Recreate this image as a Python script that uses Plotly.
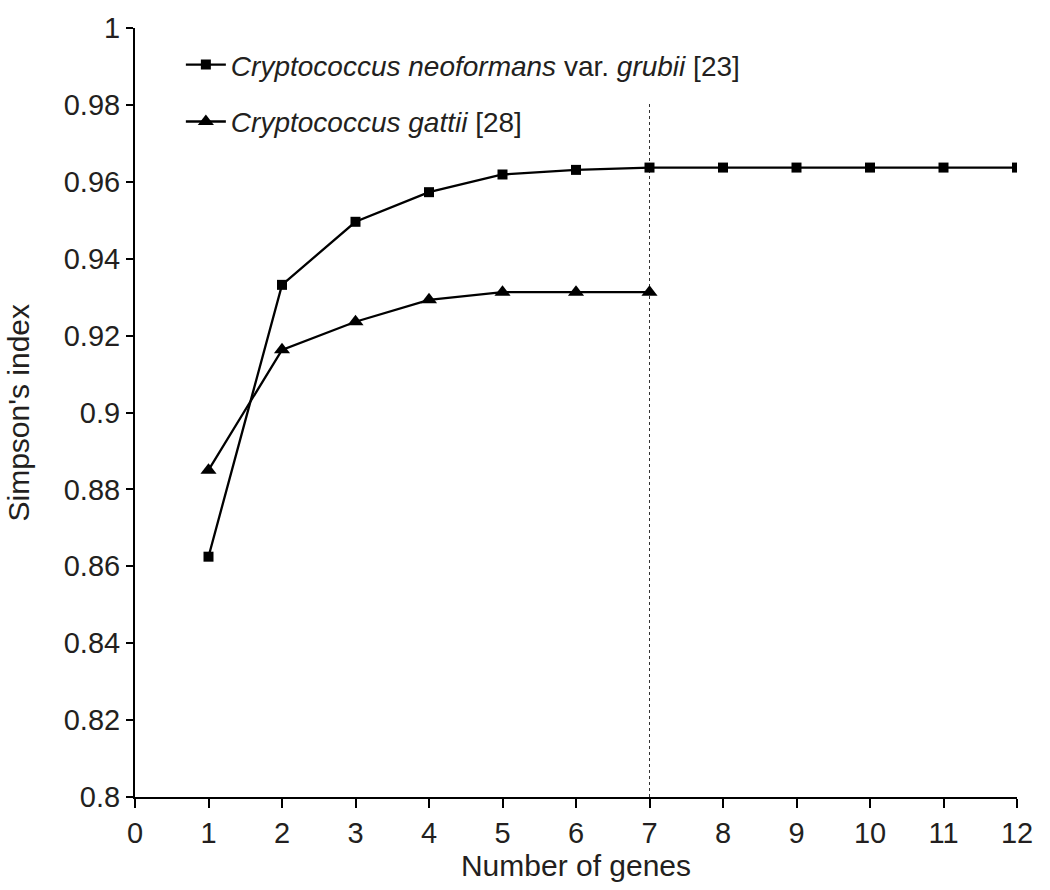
import plotly.graph_objects as go

genes_neo = [1, 2, 3, 4, 5, 6, 7, 8, 9, 10, 11, 12]
simpson_neo = [0.8625, 0.9332, 0.9496, 0.9573, 0.9619, 0.9631, 0.9637, 0.9637, 0.9637, 0.9637, 0.9637, 0.9637]
genes_gattii = [1, 2, 3, 4, 5, 6, 7]
simpson_gattii = [0.885, 0.9163, 0.9236, 0.9293, 0.9313, 0.9313, 0.9313]
x_ticks = list(range(0, 13))
y_ticks = [0.8, 0.82, 0.84, 0.86, 0.88, 0.9, 0.92, 0.94, 0.96, 0.98, 1.0]
y_tick_text = ["0.8", "0.82", "0.84", "0.86", "0.88", "0.9", "0.92", "0.94", "0.96", "0.98", "1"]
cutoff_x = 7
cutoff_top = 0.9808

FONT = "Liberation Sans, Arial, sans-serif"
TXT = "#231f20"

fig = go.Figure()
fig.add_trace(go.Scatter(
    x=genes_neo, y=simpson_neo, mode="lines+markers",
    name="<i>Cryptococcus neoformans</i> var. <i>grubii</i> [23]",
    line=dict(color="black", width=2.3),
    marker=dict(symbol="square", size=10, color="black"),
    legend="legend",
))
fig.add_trace(go.Scatter(
    x=genes_gattii, y=simpson_gattii, mode="lines+markers",
    name="<i>Cryptococcus gattii</i> [28]",
    line=dict(color="black", width=2.3),
    marker=dict(symbol="triangle-up", size=14, color="black"),
    legend="legend2",
))

fig.add_shape(type="line", xref="x", yref="y",
              x0=cutoff_x, x1=cutoff_x, y0=0.8, y1=cutoff_top,
              line=dict(color="#333333", width=1, dash="dot"), layer="below")

# y-axis title as annotation (page x center ~18px)
fig.add_annotation(text="Simpson's index", xref="paper", yref="paper",
                   x=(18 - 135) / 882, y=0.5, xanchor="center", yanchor="middle",
                   textangle=-90, showarrow=False,
                   font=dict(size=30, family=FONT, color=TXT))

leg_common = dict(xanchor="left", yanchor="middle", bgcolor="rgba(0,0,0,0)",
                  font=dict(size=28, family=FONT, color=TXT), itemwidth=40)

fig.update_layout(
    width=1050, height=890,
    margin=dict(l=135, r=33, t=28, b=93),
    paper_bgcolor="white", plot_bgcolor="white",
    font=dict(family=FONT, size=29, color=TXT),
    showlegend=True,
    legend=dict(x=0.052, y=0.952, **leg_common),
    legend2=dict(x=0.052, y=0.878, **leg_common),
    xaxis=dict(range=[0, 12], tickmode="array", tickvals=x_ticks,
               showline=True, linecolor="black", linewidth=2,
               ticks="outside", ticklen=9, tickwidth=1.5, tickcolor="black",
               showgrid=False, zeroline=False, automargin=False,
               tickfont=dict(size=29),
               title=dict(text="Number of genes", font=dict(size=30), standoff=7)),
    yaxis=dict(range=[0.8, 1.0], tickmode="array", tickvals=y_ticks, ticktext=y_tick_text,
               showline=True, linecolor="black", linewidth=2,
               ticks="outside", ticklen=7, tickwidth=1.5, tickcolor="black",
               showgrid=False, zeroline=False, automargin=False,
               tickfont=dict(size=29)),
)

fig.write_html("out.html",
               config={"displayModeBar": False},
               post_script="document.body.style.margin='0';document.body.style.overflow='hidden';")
